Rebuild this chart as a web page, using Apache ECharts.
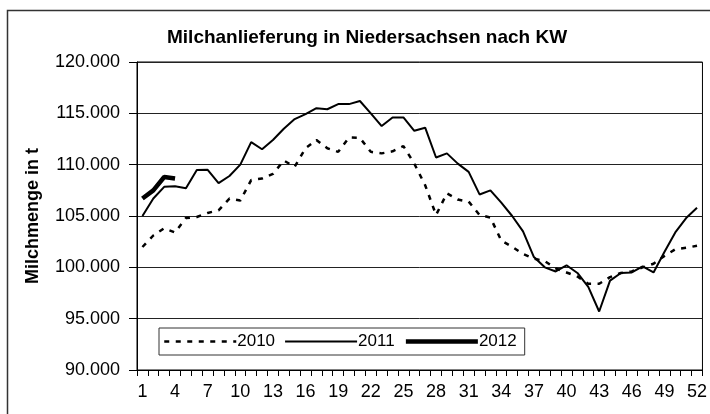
<!DOCTYPE html>
<html>
<head>
<meta charset="utf-8">
<script src="https://cdn.jsdelivr.net/npm/echarts@6/dist/echarts.min.js"></script>
<style>
  html, body { margin: 0; padding: 0; background: #fff; }
  #chart { width: 710px; height: 414px; }
</style>
</head>
<body>
<div id="chart"></div>
<script>
// Kalenderwochen
const weeks = [
  "1", "2", "3", "4", "5", "6", "7", "8", "9", "10", "11", "12", "13",
  "14", "15", "16", "17", "18", "19", "20", "21", "22", "23", "24", "25", "26",
  "27", "28", "29", "30", "31", "32", "33", "34", "35", "36", "37", "38", "39",
  "40", "41", "42", "43", "44", "45", "46", "47", "48", "49", "50", "51", "52",
];

// Milchmenge in t
const values2010 = [
  101980, 103100, 103800, 103400, 104800, 104900, 105300, 105550, 106700, 106500,
  108500, 108650, 109100, 110400, 109800, 111600, 112400, 111600, 111250, 112650,
  112600, 111250, 111100, 111300, 111800, 110100, 108000, 105100, 107200, 106600,
  106400, 105100, 104850, 102600, 102000, 101300, 100850, 100600, 99900, 99500,
  99100, 98400, 98400, 99050, 99450, 99600, 100000, 100350, 101100, 101750,
  101900, 102100,
];
const values2011 = [
  105000, 106700, 107840, 107900, 107700, 109470, 109500, 108200, 108900, 110000,
  112200, 111500, 112400, 113500, 114440, 114930, 115500, 115400, 115900, 115900,
  116200, 115000, 113760, 114600, 114600, 113300, 113600, 110700, 111100, 110100,
  109300, 107100, 107500, 106300, 105000, 103500, 101000, 100000, 99600, 100200,
  99450, 98100, 95700, 98700, 99450, 99500, 100100, 99500, 101500, 103400,
  104800, 105800,
];
const values2012 = [106700, 107500, 108800, 108650];

const font = "'Liberation Sans', Arial, sans-serif";

const dotted = { color: "#000", width: 2.5, type: [5, 6.5] };
const thin = { color: "#000", width: 2 };
const thick = { color: "#000", width: 4.5 };

function formatThousands(v) {
  return String(v).replace(/\B(?=(\d{3})+(?!\d))/g, ".");
}

const chart = echarts.init(document.getElementById("chart"), null, { renderer: "canvas" });

chart.setOption({
  backgroundColor: "#fff",
  animation: false,
  textStyle: { fontFamily: font, color: "#000" },
  graphic: [
    {
      type: "rect",
      shape: { x: 7.5, y: 10.5, width: 720, height: 420 },
      style: { fill: "none", stroke: "#333", lineWidth: 1.5 },
      silent: true,
    },
  ],
  title: {
    text: "Milchanlieferung in Niedersachsen nach KW",
    left: 167,
    top: 28,
    padding: 0,
    textStyle: { fontFamily: font, fontSize: 19, fontWeight: "bold", color: "#000" },
  },
  legend: {
    left: 159,
    top: 328,
    orient: "horizontal",
    backgroundColor: "#fff",
    borderColor: "#333",
    borderWidth: 1,
    borderRadius: 0,
    padding: [5, 8, 5, 4],
    itemWidth: 72,
    itemHeight: 14,
    itemGap: 9,
    itemStyle: { color: "rgba(0,0,0,0)", borderWidth: 0, opacity: 0 },
    textStyle: { fontFamily: font, fontSize: 17, color: "#000", padding: [0, 0, 0, -4] },
    data: [
      { name: "2010", lineStyle: dotted },
      { name: "2011", lineStyle: thin },
      { name: "2012", lineStyle: thick },
    ],
  },
  grid: {
    left: 137,
    top: 62,
    right: 4,
    bottom: 44,
    show: true,
    borderColor: "#000",
    borderWidth: 1,
    backgroundColor: "transparent",
  },
  xAxis: {
    type: "category",
    data: weeks,
    boundaryGap: true,
    axisLine: { lineStyle: { color: "#000", width: 1 } },
    axisTick: { show: true, interval: 0, length: 6, lineStyle: { color: "#000" } },
    axisLabel: {
      interval: 2,
      margin: 13,
      fontFamily: font,
      fontSize: 18,
      color: "#000",
    },
    splitLine: { show: false },
  },
  yAxis: {
    type: "value",
    min: 90000,
    max: 120000,
    interval: 5000,
    name: "Milchmenge in t",
    nameLocation: "middle",
    nameRotate: 90,
    nameGap: 95,
    nameTextStyle: { fontFamily: font, fontSize: 18, fontWeight: "bold", color: "#000" },
    axisLine: { show: true, lineStyle: { color: "#000", width: 1 } },
    axisTick: { show: true, length: 8, lineStyle: { color: "#000" } },
    axisLabel: {
      margin: 17,
      fontFamily: font,
      fontSize: 18,
      color: "#000",
      formatter: formatThousands,
    },
    splitLine: { show: true, lineStyle: { color: "#222", width: 1 } },
  },
  series: [
    {
      name: "2010",
      type: "line",
      data: values2010,
      symbol: "none",
      lineStyle: dotted,
      itemStyle: { color: "#000" },
      z: 3,
    },
    {
      name: "2011",
      type: "line",
      data: values2011,
      symbol: "none",
      lineStyle: thin,
      itemStyle: { color: "#000" },
      z: 4,
    },
    {
      name: "2012",
      type: "line",
      data: values2012,
      symbol: "none",
      lineStyle: thick,
      itemStyle: { color: "#000" },
      z: 5,
    },
  ],
});
</script>
</body>
</html>
